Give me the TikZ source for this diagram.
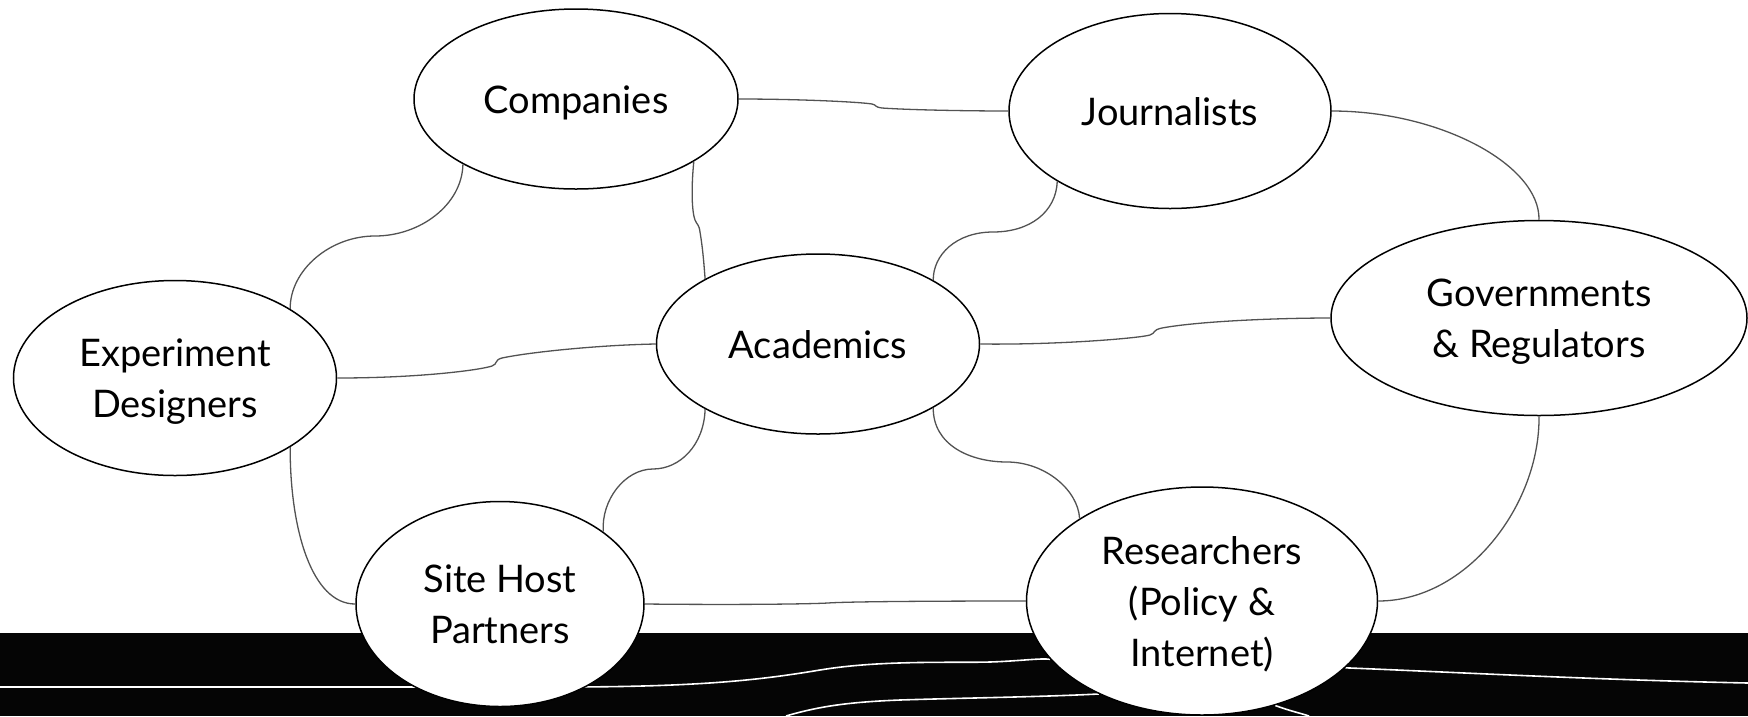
\documentclass[tikz,border=0pt]{standalone}
\usepackage{fontspec}
\setmainfont{Lato}
\usetikzlibrary{shapes.geometric}
\pgfdeclarelayer{bg}
\pgfsetlayers{bg,main}
\newcommand\lowtxt[1]{\raisebox{-4pt}[\height][\depth]{\begin{tabular}{@{}c@{}}#1\end{tabular}}}
\tikzset{
  actor/.style={ellipse, draw=black, line width=1.5pt, fill=white, inner sep=0pt,
    align=center, font=\fontsize{38}{51}\selectfont},
  link/.style={draw=black!68, line width=1.3pt},
  wlink/.style={draw=white, line width=1.6pt},
}
\begin{document}
\begin{tikzpicture}[x=1pt,y=-1pt]
\useasboundingbox (0,0) rectangle (1748,716);
\node[actor, minimum width=324pt, minimum height=180pt] (C) at (576,99) {\lowtxt{Companies}};
\node[actor, minimum width=322pt, minimum height=195pt] (J) at (1170,111) {\lowtxt{Journalists}};
\node[actor, minimum width=323pt, minimum height=195pt] (E) at (175,378) {\lowtxt{Experiment\\Designers}};
\node[actor, minimum width=323pt, minimum height=180pt] (A) at (818,344) {\lowtxt{Academics}};
\node[actor, minimum width=416pt, minimum height=195pt] (G) at (1539,318) {\lowtxt{Governments\\\& Regulators}};
\node[actor, minimum width=288pt, minimum height=205pt] (S) at (500,604) {\lowtxt{Site Host\\Partners}};
\node[actor, minimum width=351pt, minimum height=228pt] (R) at (1202,601) {\lowtxt{Researchers\\(Policy \&\\Internet)}};
\coordinate (wl) at (0,687);
\coordinate (wb1) at (786,716);
\coordinate (wr) at (1748,683);
\coordinate (wb2) at (1309,716);
\begin{pgfonlayer}{bg}
\fill[black!98] (0,633) rectangle (1748,716);
\path[wlink] (wl) -- (560,687) .. controls (700,687) and (760,680) .. (820,670)
  .. controls (880,660) and (950,663) .. (990,662) .. controls (1020,661) and (1040,658) .. (R.-159.7);
\path[wlink] (wb1) .. controls (820,706) and (850,702) .. (900,700)
  .. controls (960,698) and (1040,697) .. (R.-138.2);
\path[wlink] (R.-25.9) .. controls (1450,672) and (1600,680) .. (wr);
\path[wlink] (R.-55.4) .. controls (1290,711) and (1300,713) .. (wb2);
\end{pgfonlayer}
% connectors
\path[link] (C.east) .. controls (800,99) and (860,102) .. (872,104)
  .. controls (877,105) and (874,107) .. (882,108) .. controls (910,110) and (970,111) .. (J.west);
\path[link] (C.-28.7) .. controls (691,190) and (692,212) .. (695,220)
  .. controls (697,225) and (699,224) .. (700,232) .. controls (703,250) and (704,265) .. (A.150.7);
\path[link] (J.-148.8) .. controls (1056,212) and (1030,232) .. (993,232)
  .. controls (956,232) and (933,255) .. (A.29.1);
\path[link] (J.east) .. controls (1440,111) and (1540,165) .. (G.north);
\path[link] (C.-150.7) .. controls (462,205) and (420,236) .. (375,236)
  .. controls (330,236) and (290,270) .. (E.31.0);
\path[link] (E.east) .. controls (420,378) and (480,370) .. (492,366)
  .. controls (498,364) and (494,360) .. (502,358) .. controls (530,352) and (600,345) .. (A.west);
\path[link] (A.east) .. controls (1060,345) and (1140,338) .. (1150,335)
  .. controls (1156,333) and (1152,330) .. (1162,328) .. controls (1200,321) and (1280,318) .. (G.west);
\path[link] (A.-150.3) .. controls (704,445) and (680,469) .. (653,469)
  .. controls (625,469) and (601,500) .. (S.35.1);
\path[link] (A.-29.5) .. controls (933,445) and (970,462) .. (1007,462)
  .. controls (1045,462) and (1078,490) .. (R.146.8);
\path[link] (E.-31.3) .. controls (290,530) and (312,604) .. (S.west);
\path[link] (S.east) .. controls (740,605) and (810,604) .. (828,603)
  .. controls (840,602) and (900,601) .. (R.west);
\path[link] (G.south) .. controls (1540,505) and (1467,601) .. (R.east);
\end{tikzpicture}
\end{document}
